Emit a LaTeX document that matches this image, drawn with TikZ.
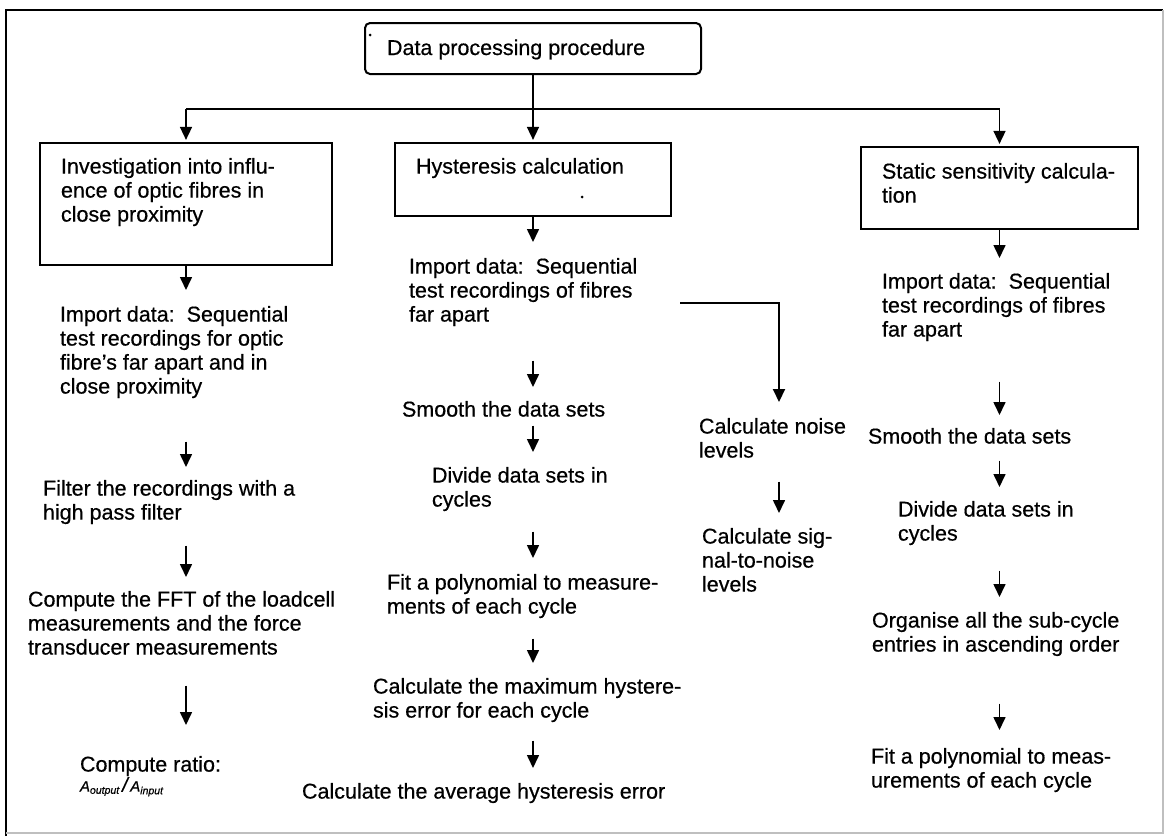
\documentclass[tikz,border=0pt]{standalone}
\usepackage{fontspec}
\setmainfont{Liberation Sans}[FakeBold=0.5]
\usetikzlibrary{arrows.meta}
\newcommand{\mystr}{\rule[-5pt]{0pt}{17pt}}
\begin{document}
\begin{tikzpicture}[x=1pt,y=-1pt,
  txt/.style={anchor=north west, inner sep=0pt, outer sep=0pt, align=left, font=\fontsize{21.5pt}{24pt}\selectfont},
  boxnode/.style={draw, line width=2.2pt, inner sep=0pt},
  tree/.style={line width=2pt},
  arr/.style={line width=1.6pt, -{Triangle[width=12pt,length=13pt]}},
  dotmark/.style={fill, circle, inner sep=0pt, minimum size=3pt},
]
\useasboundingbox (0,0) rectangle (1165,836);
\fill[white] (0,0) rectangle (1165,836);
% frame
\draw[line width=1.5pt] (6,836) -- (6,10) -- (1163,10);
\draw[line width=1.2pt, black!25] (1163,10) -- (1163,833) -- (6,833);

% top box
\node[boxnode, rounded corners=5pt, line width=2pt, minimum width=336pt, minimum height=51pt] (top) at (533,48.5) {};
\node[txt, anchor=base west] (toptxt) at (387,55) {Data processing procedure};
\node[dotmark] (dot1) at (370,35) {};

% boxes
\node[boxnode, minimum width=292pt, minimum height=122pt] (box1) at (186,204) {};
\node[txt] (box1txt) at (61,158) {\mystr Investigation into influ-\\\mystr ence of optic fibres in\\\mystr close proximity};
\node[boxnode, minimum width=276pt, minimum height=73pt] (box2) at (533,179.5) {};
\node[txt] (box2txt) at (416,158) {\mystr Hysteresis calculation};
\node[dotmark] (dot2) at (582,197) {};
\node[boxnode, minimum width=277pt, minimum height=82pt] (box3) at (999.5,188) {};
\node[txt] (box3txt) at (882,163) {\mystr Static sensitivity calcula-\\\mystr tion};

% tree
\coordinate (j) at (533,109);
\draw[tree] (top.south) -- (j);
\draw[tree] (j -| box1.north) -- (j -| box3.north);
\draw[arr, shorten >=2pt] (j -| box1.north) -- (box1.north);
\draw[arr, shorten >=2pt] (j) -- (box2.north);
\draw[arr, shorten >=2pt] (j -| box3.north) -- (box3.north);

% column 1
\node[txt] (t1) at (60,306) {\mystr Import data:\ \ Sequential\\\mystr test recordings for optic\\\mystr fibre’s far apart and in\\\mystr close proximity};
\node[txt] (t2) at (43,480) {\mystr Filter the recordings with a\\\mystr high pass filter};
\node[txt] (t3) at (28,591) {\mystr Compute the FFT of the loadcell\\\mystr measurements and the force\\\mystr transducer measurements};
\node[txt] (t4) at (80,756) {\mystr Compute ratio:\\[-4pt]{\fontsize{15pt}{18pt}\selectfont\itshape A\textsubscript{output}\,{\fontsize{20pt}{20pt}\selectfont /}\,A\textsubscript{input}}};

\draw[arr, shorten >=16pt] (box1.south) -- (box1.south |- t1.north);
\draw[arr, shorten <=43pt, shorten >=13pt] (box1.south |- t1.south) -- (box1.south |- t2.north);
\draw[arr, shorten <=21pt, shorten >=14pt] (box1.south |- t2.south) -- (box1.south |- t3.north);
\draw[arr, shorten <=26pt, shorten >=31pt] (box1.south |- t3.south) -- (box1.south |- t4.north);

% column 2
\node[txt] (t5) at (409,258) {\mystr Import data:\ \ Sequential\\\mystr test recordings of fibres\\\mystr far apart};
\node[txt] (s2) at (402,401) {\mystr Smooth the data sets};
\node[txt] (d2) at (432,467) {\mystr Divide data sets in\\\mystr cycles};
\node[txt] (f2) at (387,574) {\mystr Fit a polynomial to measure-\\\mystr ments of each cycle};
\node[txt] (m2) at (373,678) {\mystr Calculate the maximum hystere-\\\mystr sis error for each cycle};
\node[txt] (a2) at (302,783) {\mystr Calculate the average hysteresis error};

\draw[arr, shorten >=16pt] (box2.south) -- (box2.south |- t5.north);
\draw[arr, shorten <=34pt, shorten >=14pt] (box2.south |- t5.south) -- (box2.south |- s2.north);
\draw[arr, shorten <=4pt, shorten >=15pt] (box2.south |- s2.south) -- (box2.south |- d2.north);
\draw[arr, shorten <=20pt, shorten >=16pt] (box2.south |- d2.south) -- (box2.south |- f2.north);
\draw[arr, shorten <=20pt, shorten >=15pt] (box2.south |- f2.south) -- (box2.south |- m2.north);
\draw[arr, shorten <=18pt, shorten >=15pt] (box2.south |- m2.south) -- (box2.south |- a2.north);

% branch
\node[txt] (n2) at (699,418) {\mystr Calculate noise\\\mystr levels};
\node[txt] (r2) at (702,528) {\mystr Calculate sig-\\\mystr nal-to-noise\\\mystr levels};
\coordinate (b0) at (680,303);
\coordinate (b1) at (779,303);
\draw[arr, line width=2pt, shorten >=16pt] (b0) -- (b1) -- (b1 |- n2.north);
\draw[arr, shorten <=19pt, shorten >=15pt] (b1 |- n2.south) -- (b1 |- r2.north);

% column 3
\node[txt] (t6) at (882,273) {\mystr Import data:\ \ Sequential\\\mystr test recordings of fibres\\\mystr far apart};
\node[txt] (s3) at (868,428) {\mystr Smooth the data sets};
\node[txt] (d3) at (898,501) {\mystr Divide data sets in\\\mystr cycles};
\node[txt] (o3) at (872,612) {\mystr Organise all the sub-cycle\\\mystr entries in ascending order};
\node[txt] (f3) at (871,748) {\mystr Fit a polynomial to meas-\\\mystr urements of each cycle};

\draw[arr, shorten >=15pt] (box3.south) -- (box3.south |- t6.north);
\draw[arr, shorten <=40pt, shorten >=13pt] (box3.south |- t6.south) -- (box3.south |- s3.north);
\draw[arr, shorten <=12pt, shorten >=14pt] (box3.south |- s3.south) -- (box3.south |- d3.north);
\draw[arr, shorten <=25pt, shorten >=15pt] (box3.south |- d3.south) -- (box3.south |- o3.north);
\draw[arr, shorten <=47pt, shorten >=18pt] (box3.south |- o3.south) -- (box3.south |- f3.north);
\end{tikzpicture}
\end{document}
